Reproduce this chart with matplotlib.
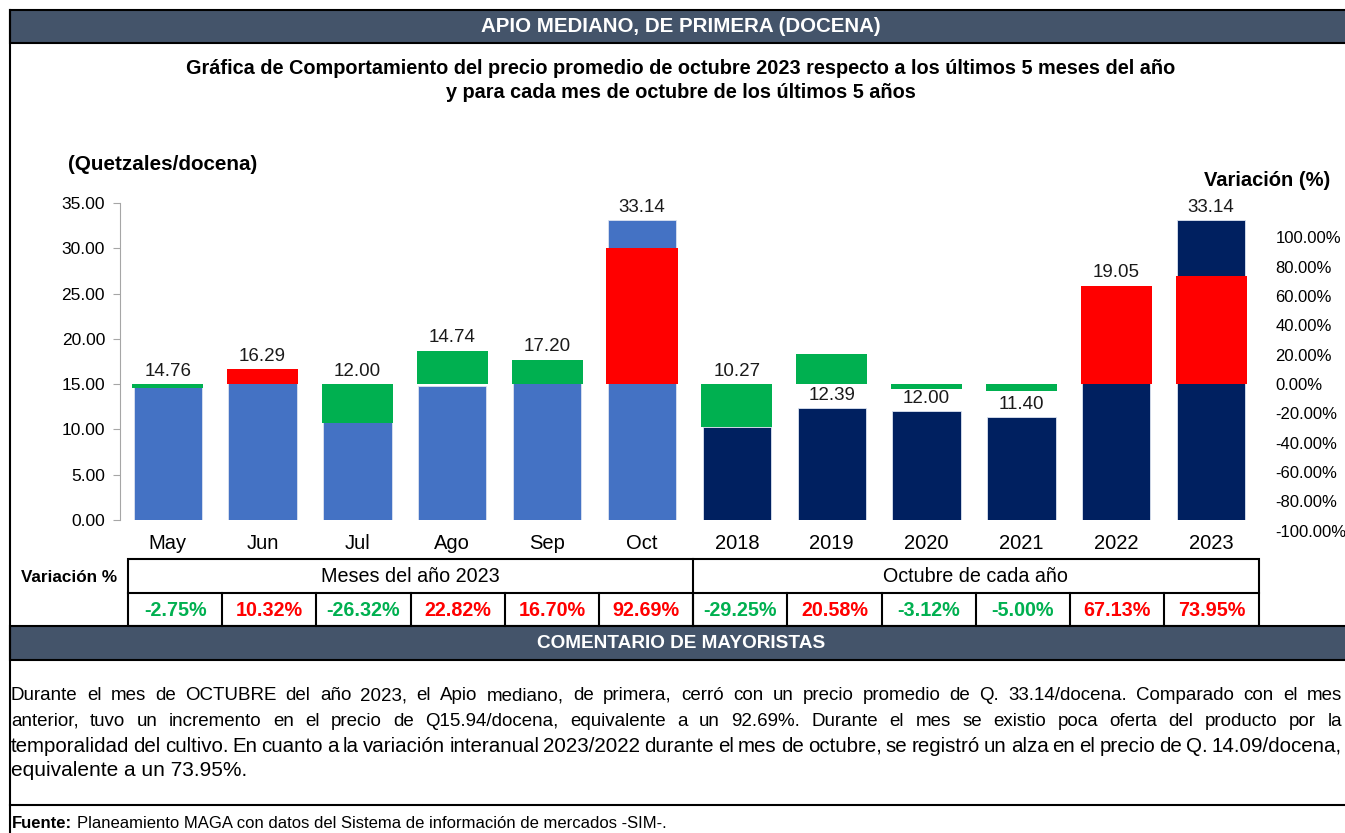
import matplotlib
matplotlib.use("Agg")
import matplotlib.pyplot as plt
from matplotlib.patches import Rectangle
from matplotlib.lines import Line2D
from matplotlib.ticker import FuncFormatter

plt.rcParams['font.family'] = ['Liberation Sans', 'DejaVu Sans']

# datos
categorias = ['May', 'Jun', 'Jul', 'Ago', 'Sep', 'Oct',
              '2018', '2019', '2020', '2021', '2022', '2023']
precios = [14.76, 16.29, 12.00, 14.74, 17.20, 33.14,
           10.27, 12.39, 12.00, 11.40, 19.05, 33.14]
variacion = [-2.75, 10.32, -26.32, 22.82, 16.70, 92.69,
             -29.25, 20.58, -3.12, -5.00, 67.13, 73.95]
grupos = ['Meses del año 2023', 'Octubre de cada año']
colores_precio = ['#4472C4'] * 6 + ['#002060'] * 6
colores_variacion = ['#00B050', '#FF0000', '#00B050', '#00B050', '#00B050', '#FF0000',
                     '#00B050', '#00B050', '#00B050', '#00B050', '#FF0000', '#FF0000']

titulo = 'APIO MEDIANO, DE PRIMERA (DOCENA)'
subtitulo = ['Gráfica de Comportamiento del precio promedio de octubre 2023 '
             'respecto a los últimos 5 meses del año',
             'y para cada mes de octubre de los últimos 5 años']
comentario = [
    'Durante el mes de OCTUBRE del año 2023, el Apio mediano, de primera, cerró con un '
    'precio promedio de Q. 33.14/docena. Comparado con el mes',
    'anterior, tuvo un incremento en el precio de Q15.94/docena, equivalente a un 92.69%. '
    'Durante el mes se existio poca oferta del producto por la',
    'temporalidad del cultivo. En cuanto a la variación interanual 2023/2022 durante el mes '
    'de octubre, se registró un alza en el precio de Q. 14.09/docena,',
    'equivalente a un 73.95%.',
]
fuente = 'Planeamiento MAGA con datos del Sistema de información de mercados -SIM-.'

W, H = 1345, 833
fig = plt.figure(figsize=(W / 100, H / 100), dpi=100)
BANDA = '#44546A'


def fx(x):
    return x / W


def fy(y):
    return 1 - y / H


def caja(x0, y0, x1, y1, color='none', lw=1.5):
    fig.add_artist(Rectangle((fx(x0), fy(y1)), fx(x1) - fx(x0), fy(y0) - fy(y1),
                             transform=fig.transFigure, facecolor=color,
                             edgecolor='black', lw=lw))


def linea(x0, y0, x1, y1, lw=1.5):
    fig.add_artist(Line2D([fx(x0), fx(x1)], [fy(y0), fy(y1)],
                          transform=fig.transFigure, color='black', lw=lw))


# ejes del grafico
x_izq, x_der = 120.3, 1258.6
y_sup, y_inf, y_cero = 203, 520, 384
ax1 = fig.add_axes([fx(x_izq), fy(y_inf), fx(x_der) - fx(x_izq), fy(y_sup) - fy(y_inf)])
pos = list(range(len(categorias)))
ax1.bar(pos, precios, width=0.72, color=colores_precio, edgecolor='#DCE3F0', linewidth=0.6)
ax1.set_xlim(-0.5, len(categorias) - 0.5)
ax1.set_ylim(0, 35)
ax1.set_yticks(range(0, 36, 5))
ax1.yaxis.set_major_formatter(FuncFormatter(lambda v, _: f'{v:.2f}'))
ax1.set_xticks(pos)
ax1.set_xticklabels(categorias)
for s in ['top', 'right', 'bottom']:
    ax1.spines[s].set_visible(False)
ax1.spines['left'].set_color('#A6A6A6')
ax1.tick_params(axis='y', length=5, color='#A6A6A6', labelsize=12.5, pad=6)
ax1.tick_params(axis='x', length=0, labelsize=14.5, pad=10)

# eje secundario de variacion, 0% alineado con 15.00
px_100 = 146.7
y_inf2 = 535
ax2 = fig.add_axes([fx(x_izq), fy(y_inf2), fx(x_der) - fx(x_izq), fy(y_sup) - fy(y_inf2)])
ax2.patch.set_visible(False)
ax2.bar(pos, variacion, width=0.75, color=colores_variacion)
ax2.set_xlim(-0.5, len(categorias) - 0.5)
ax2.set_ylim(-(y_inf2 - y_cero) / px_100 * 100, (y_cero - y_sup) / px_100 * 100)
ax2.yaxis.tick_right()
ax2.set_yticks(range(-100, 101, 20))
ax2.yaxis.set_major_formatter(FuncFormatter(lambda v, _: f'{v:.2f}%'))
ax2.tick_params(axis='y', length=0, labelsize=12, pad=12)
ax2.xaxis.set_visible(False)
for s in ax2.spines.values():
    s.set_visible(False)

# etiquetas de precio sobre la barra visible
for i, p in enumerate(precios):
    xd, yp = ax1.transData.transform((i, p))
    a = ax2.transData.transform((i, 0))[1]
    b = ax2.transData.transform((i, variacion[i]))[1]
    lo, hi = min(a, b), max(a, b)
    ancla = max(yp, hi) if lo - 5 <= yp <= hi + 5 else yp
    ax2.annotate(f'{p:.2f}', xy=(xd, ancla), xycoords='figure pixels',
                 xytext=(0, 3), textcoords='offset points',
                 ha='center', va='bottom', fontsize=13.5, color='#1A1A1A')

# encabezados
caja(10, 10, 1360, 43, BANDA)
linea(10, 10, 10, H)
fig.text(fx(681), fy(27), titulo, ha='center', va='center', color='white',
         fontsize=14.8, fontweight='bold')
fig.text(fx(681), fy(68), subtitulo[0], ha='center', va='center',
         fontsize=14.3, fontweight='bold')
fig.text(fx(681), fy(92), subtitulo[1], ha='center', va='center',
         fontsize=14.3, fontweight='bold')
fig.text(fx(68), fy(165), '(Quetzales/docena)', ha='left', va='center',
         fontsize=14.9, fontweight='bold')
fig.text(fx(1204), fy(180), 'Variación (%)', ha='left', va='center',
         fontsize=14.5, fontweight='bold')

# tabla de variaciones
t_izq, t_der = 128, 1258.5
col = (t_der - t_izq) / len(categorias)
caja(t_izq, 559, t_der, 626)
linea(t_izq, 593, t_der, 593)
linea(t_izq + 6 * col, 559, t_izq + 6 * col, 626)
for k in range(1, len(categorias)):
    linea(t_izq + k * col, 593, t_izq + k * col, 626)
fig.text(fx(21), fy(577), 'Variación %', ha='left', va='center',
         fontsize=12.3, fontweight='bold')
for g, nombre in enumerate(grupos):
    fig.text(fx(t_izq + (g * 6 + 3) * col), fy(576), nombre, ha='center', va='center',
             fontsize=14.2)
for k, v in enumerate(variacion):
    fig.text(fx(t_izq + (k + 0.5) * col), fy(610), f'{v:.2f}%', ha='center', va='center',
             fontsize=14.2, fontweight='bold', color='#00B050' if v < 0 else '#FF0000')

# comentario
caja(10, 626, 1360, 660, BANDA)
fig.text(fx(681), fy(643), 'COMENTARIO DE MAYORISTAS', ha='center', va='center',
         color='white', fontsize=13.7, fontweight='bold')

renderer = fig.canvas.get_renderer()
x0_txt, x1_txt = 11, 1342
tamanos = [13.5, 13.5, 15, 15]
for j, renglon in enumerate(comentario):
    yy = fy(696 + 25 * j)
    fs = tamanos[j]
    if j == len(comentario) - 1:
        fig.text(fx(x0_txt), yy, renglon, ha='left', va='center', fontsize=fs)
        continue
    palabras = renglon.split()
    while True:
        objs = [fig.text(0, yy, w, ha='left', va='center', fontsize=fs) for w in palabras]
        anchos = [o.get_window_extent(renderer).width for o in objs]
        hueco = (x1_txt - x0_txt - sum(anchos)) / (len(palabras) - 1)
        if hueco >= fs * 0.22:
            break
        for o in objs:
            o.remove()
        fs -= 0.25
    xx = x0_txt
    for o, an in zip(objs, anchos):
        o.set_x(fx(xx))
        xx += an + hueco

linea(10, 805, 1360, 805)
t_f = fig.text(fx(12), fy(823), 'Fuente:', ha='left', va='center', fontsize=12,
               fontweight='bold')
ancho_f = t_f.get_window_extent(renderer).width
fig.text(fx(12 + ancho_f + 5), fy(823), fuente, ha='left', va='center', fontsize=12)

fig.savefig('out.png', dpi=100)
